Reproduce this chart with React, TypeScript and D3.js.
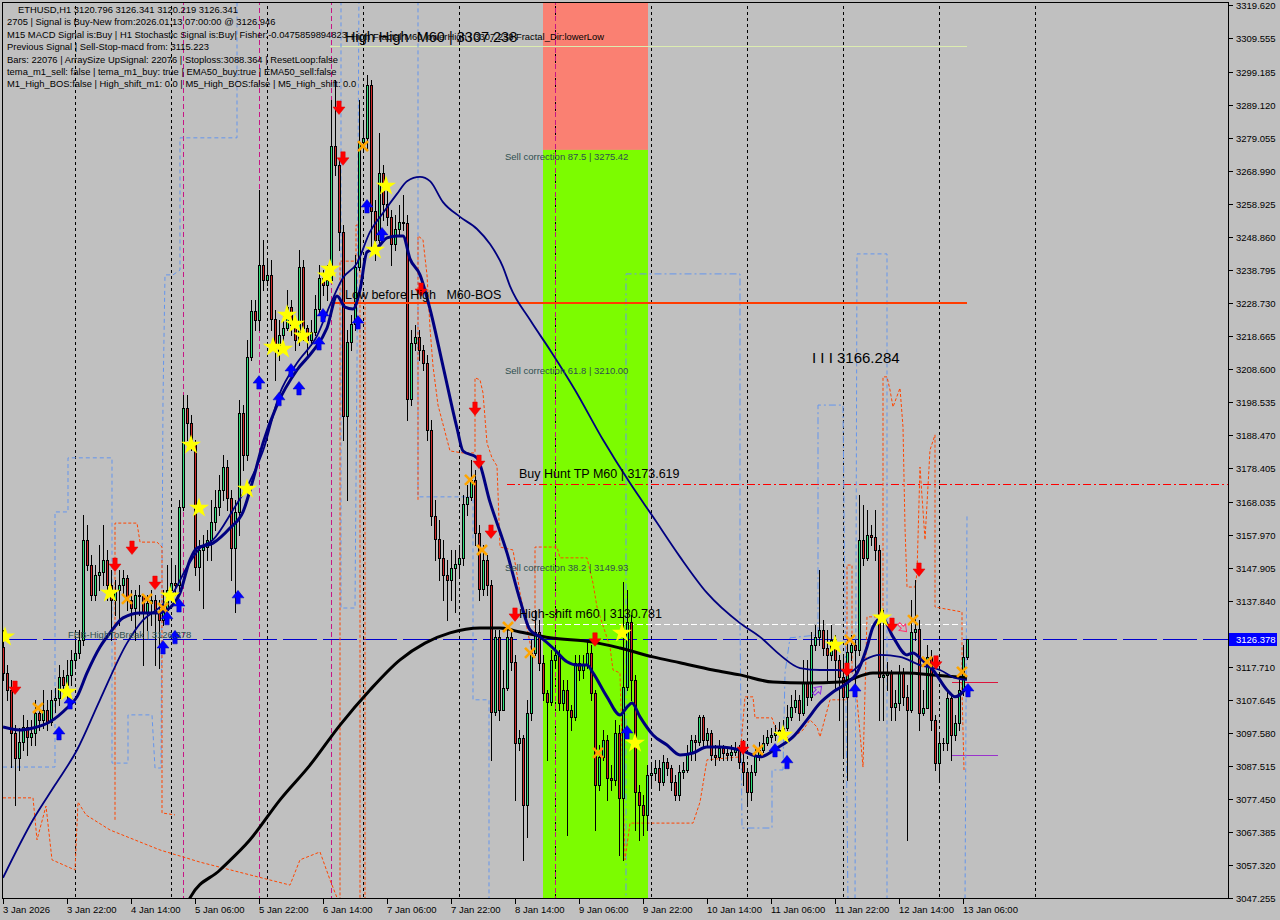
import * as d3 from "d3";

// ETHUSD H1, first bar 3 Jan 2026 06:00, one bar per hour
const START = Date.UTC(2026, 0, 3, 6);
const HOUR = 3600 * 1000;
const FIRST_OPEN = 3123.8;

const CLOSE = [
  3115.9, 3110.7, 3097.6, 3090.0, 3094.9, 3099.4, 3096.4, 3097.6, 3103.7, 3101.6,
  3104.6, 3101.0, 3107.7, 3108.3, 3114.7, 3112.2, 3115.3, 3119.9, 3122.0, 3126.0,
  3156.5, 3148.8, 3139.7, 3145.8, 3146.7, 3150.4, 3142.7, 3138.2, 3141.2, 3142.7,
  3144.8, 3138.2, 3135.7, 3139.7, 3139.4, 3134.5, 3137.2, 3138.2, 3134.5, 3132.0,
  3135.1, 3141.2, 3143.3, 3142.7, 3166.5, 3196.7, 3192.1, 3185.4, 3148.2, 3153.4,
  3154.3, 3156.5, 3162.0, 3166.5, 3171.7, 3178.7, 3169.3, 3154.0, 3165.0, 3195.2,
  3182.4, 3212.3, 3226.3, 3223.6, 3240.3, 3235.8, 3237.3, 3223.9, 3214.1, 3219.0,
  3221.1, 3227.5, 3222.0, 3217.5, 3239.7, 3221.1, 3217.5, 3219.9, 3226.9, 3236.4,
  3234.2, 3235.8, 3276.6, 3270.8, 3250.4, 3194.3, 3216.8, 3222.3, 3239.7, 3277.8,
  3279.1, 3295.2, 3256.8, 3248.0, 3268.4, 3258.9, 3255.0, 3246.7, 3251.3, 3253.4,
  3253.1, 3199.5, 3216.5, 3218.4, 3214.4, 3210.4, 3190.0, 3163.8, 3156.8, 3151.0,
  3145.8, 3144.3, 3147.9, 3149.1, 3151.0, 3167.4, 3169.6, 3174.8, 3158.6, 3141.5,
  3150.4, 3142.7, 3104.0, 3126.9, 3104.6, 3111.3, 3126.9, 3119.3, 3094.5, 3096.1,
  3075.6, 3103.7, 3122.0, 3128.4, 3119.0, 3109.8, 3107.0, 3119.9, 3121.4, 3106.7,
  3110.7, 3104.6, 3102.5, 3119.0, 3116.8, 3118.3, 3122.0, 3109.8, 3081.7, 3090.3,
  3095.5, 3083.9, 3083.3, 3097.6, 3077.8, 3111.6, 3131.4, 3113.8, 3079.6, 3075.6,
  3072.6, 3084.8, 3085.4, 3086.9, 3082.7, 3088.8, 3086.9, 3082.7, 3078.7, 3085.7,
  3086.3, 3091.5, 3095.5, 3094.9, 3102.5, 3095.5, 3097.6, 3090.9, 3090.3, 3093.0,
  3091.5, 3090.9, 3091.8, 3093.0, 3088.8, 3085.7, 3079.6, 3085.7, 3090.9, 3092.4,
  3094.5, 3096.4, 3097.0, 3097.6, 3098.5, 3099.1, 3102.5, 3105.5, 3107.7, 3103.7,
  3112.8, 3108.6, 3124.4, 3126.9, 3129.0, 3123.5, 3121.4, 3126.0, 3119.9, 3114.7,
  3108.6, 3122.3, 3124.4, 3122.9, 3156.5, 3151.0, 3158.0, 3157.4, 3153.4, 3114.7,
  3115.3, 3116.2, 3105.5, 3106.7, 3116.2, 3108.6, 3104.6, 3128.4, 3129.3, 3103.7,
  3105.2, 3120.8, 3101.6, 3088.4, 3094.5, 3094.5, 3108.3, 3097.0, 3100.6, 3110.7,
  3120.8, 3126.3,
];

const HIGH = [
  3129.0, 3118.3, 3113.8, 3100.0, 3099.1, 3103.1, 3101.6, 3101.6, 3107.7, 3106.1,
  3110.7, 3107.7, 3110.7, 3111.3, 3118.3, 3116.8, 3119.9, 3122.9, 3126.0, 3129.0,
  3164.1, 3161.0, 3151.9, 3148.8, 3154.9, 3161.0, 3153.4, 3147.3, 3144.3, 3147.3,
  3147.3, 3145.8, 3141.2, 3141.2, 3142.7, 3139.7, 3139.7, 3141.2, 3139.7, 3138.2,
  3141.2, 3148.8, 3150.4, 3148.8, 3168.7, 3200.7, 3200.7, 3194.6, 3187.0, 3156.5,
  3158.0, 3159.5, 3168.7, 3171.7, 3176.3, 3182.4, 3180.9, 3171.7, 3168.7, 3199.2,
  3197.6, 3217.5, 3229.7, 3229.7, 3263.2, 3248.0, 3241.9, 3241.9, 3226.6, 3223.6,
  3225.1, 3232.7, 3229.7, 3223.6, 3244.9, 3241.9, 3222.0, 3223.6, 3231.2, 3240.3,
  3238.8, 3240.3, 3290.7, 3296.8, 3272.4, 3252.5, 3220.5, 3225.1, 3243.4, 3290.7,
  3284.6, 3298.3, 3296.8, 3260.2, 3280.6, 3270.8, 3263.2, 3257.1, 3255.6, 3258.6,
  3261.7, 3255.6, 3220.5, 3222.0, 3220.5, 3215.9, 3212.9, 3193.0, 3168.7, 3162.6,
  3156.5, 3150.4, 3153.4, 3153.4, 3154.9, 3170.2, 3173.2, 3180.9, 3177.8, 3161.0,
  3154.9, 3151.9, 3144.3, 3129.0, 3129.0, 3116.8, 3130.5, 3129.0, 3121.4, 3098.5,
  3097.0, 3107.7, 3126.0, 3135.1, 3132.0, 3121.4, 3110.7, 3122.9, 3124.4, 3122.9,
  3113.8, 3113.8, 3106.1, 3121.4, 3121.4, 3121.4, 3126.0, 3124.4, 3110.7, 3093.9,
  3098.5, 3097.0, 3087.8, 3101.6, 3100.0, 3143.6, 3141.2, 3133.6, 3115.3, 3081.7,
  3078.7, 3087.8, 3087.8, 3089.4, 3089.4, 3090.9, 3090.0, 3087.8, 3084.8, 3087.8,
  3088.8, 3093.9, 3097.0, 3097.0, 3103.1, 3103.1, 3099.1, 3098.5, 3093.9, 3095.5,
  3093.9, 3093.0, 3093.9, 3094.9, 3093.9, 3095.5, 3086.3, 3087.8, 3093.0, 3094.9,
  3097.0, 3098.5, 3099.1, 3100.0, 3101.0, 3101.6, 3106.1, 3109.2, 3110.7, 3109.2,
  3119.9, 3119.9, 3128.4, 3130.5, 3147.3, 3132.0, 3129.0, 3130.5, 3127.5, 3121.4,
  3121.4, 3126.0, 3127.5, 3126.0, 3170.2, 3167.1, 3165.6, 3161.0, 3165.6, 3154.9,
  3135.1, 3119.3, 3116.8, 3110.7, 3118.3, 3117.4, 3112.2, 3138.2, 3144.3, 3132.0,
  3110.7, 3124.4, 3122.9, 3103.1, 3097.0, 3096.1, 3110.7, 3109.2, 3103.1, 3113.8,
  3124.4, 3126.3,
];

const LOW = [
  3113.8, 3107.7, 3087.2, 3075.6, 3086.3, 3092.4, 3090.9, 3093.9, 3093.9, 3098.5,
  3099.1, 3098.5, 3100.0, 3104.0, 3106.1, 3109.2, 3107.7, 3112.2, 3118.3, 3120.5,
  3124.4, 3147.3, 3138.2, 3138.2, 3141.2, 3142.7, 3138.2, 3126.0, 3133.6, 3130.5,
  3139.7, 3135.1, 3132.0, 3126.0, 3133.6, 3118.3, 3129.0, 3130.5, 3118.3, 3117.4,
  3130.5, 3133.6, 3139.7, 3139.7, 3139.7, 3165.6, 3187.0, 3183.9, 3145.8, 3141.2,
  3135.7, 3150.4, 3150.4, 3159.5, 3164.1, 3168.7, 3165.6, 3144.3, 3134.5, 3158.0,
  3177.8, 3180.9, 3211.4, 3220.5, 3220.5, 3232.7, 3234.2, 3220.5, 3205.3, 3211.4,
  3215.9, 3220.5, 3219.0, 3214.4, 3215.9, 3217.5, 3212.9, 3215.9, 3219.0, 3225.1,
  3231.2, 3229.7, 3240.3, 3267.8, 3244.9, 3187.0, 3168.7, 3214.4, 3220.5, 3238.8,
  3275.4, 3275.4, 3244.9, 3241.9, 3246.4, 3254.1, 3252.5, 3240.3, 3244.9, 3249.5,
  3251.0, 3193.0, 3197.6, 3214.4, 3211.4, 3208.3, 3187.0, 3161.0, 3150.4, 3144.3,
  3138.2, 3132.0, 3138.2, 3134.5, 3145.8, 3148.8, 3164.1, 3168.7, 3154.9, 3138.2,
  3139.7, 3139.7, 3089.4, 3103.1, 3101.6, 3107.7, 3110.7, 3116.8, 3077.2, 3092.4,
  3058.9, 3065.9, 3101.6, 3121.4, 3116.8, 3107.7, 3089.4, 3106.1, 3117.4, 3104.6,
  3104.6, 3066.5, 3098.5, 3101.6, 3113.8, 3114.4, 3117.4, 3107.7, 3068.0, 3080.2,
  3089.4, 3077.2, 3080.2, 3081.7, 3060.4, 3058.9, 3110.7, 3107.7, 3068.0, 3065.0,
  3066.5, 3068.0, 3081.7, 3083.3, 3080.2, 3081.7, 3084.8, 3080.2, 3077.2, 3077.2,
  3083.9, 3085.7, 3089.4, 3089.4, 3093.9, 3093.0, 3093.9, 3089.4, 3087.8, 3089.4,
  3089.4, 3089.4, 3089.4, 3090.9, 3086.9, 3081.7, 3075.6, 3077.2, 3084.8, 3089.4,
  3091.8, 3093.9, 3094.9, 3095.5, 3096.1, 3097.0, 3098.5, 3101.6, 3104.0, 3101.6,
  3103.1, 3106.1, 3107.7, 3122.9, 3124.4, 3121.4, 3113.8, 3119.9, 3110.7, 3101.6,
  3090.9, 3083.3, 3119.9, 3110.7, 3121.4, 3148.8, 3150.4, 3154.9, 3150.4, 3101.6,
  3101.6, 3110.7, 3101.6, 3101.6, 3104.6, 3106.1, 3065.0, 3104.0, 3126.0, 3098.5,
  3103.1, 3106.1, 3098.5, 3086.3, 3083.3, 3092.4, 3092.4, 3089.4, 3095.5, 3098.5,
  3109.2, 3120.2,
];

// indicator lines: [bar index, price]
const FAST_MA: [number, number][] = [
  [0, 3099.4], [4.25, 3098.5], [7.5, 3099.1], [11.75, 3101.0], [16, 3105.2], [18.5, 3108.6],
  [21, 3115.9], [24.25, 3123.8], [26.75, 3128.1], [30, 3132.7], [34.25, 3134.2], [38.5, 3134.2],
  [41, 3135.1], [44.25, 3140.3], [46.75, 3150.4], [48.5, 3154.0], [52.5, 3155.5], [56.75, 3160.1],
  [60, 3165.0], [62.5, 3174.8], [65, 3186.0], [68.5, 3197.6], [73.5, 3208.3], [77.5, 3214.1],
  [81, 3221.1], [83.5, 3230.9], [85.5, 3227.5], [87.5, 3226.9], [89.25, 3232.7], [91, 3244.3],
  [93.5, 3245.5], [96, 3248.6], [98.5, 3249.2], [100, 3249.2], [101.75, 3242.2], [104.25, 3237.3],
  [106.75, 3226.9], [110, 3209.5], [113.5, 3190.6], [115, 3183.6], [118.5, 3181.5], [121.75, 3168.0],
  [126, 3152.5], [129.25, 3138.2], [131.75, 3129.0], [134.25, 3126.9], [137.5, 3123.5], [141, 3119.3],
  [143.5, 3118.3], [146, 3118.3], [147.5, 3115.9], [151, 3108.6], [154.25, 3103.1], [156, 3105.5],
  [157.25, 3106.7], [159.25, 3102.5], [162.5, 3097.0], [166, 3093.9], [169.25, 3090.9], [172.5, 3091.5],
  [176, 3093.3], [179.25, 3093.3], [184.25, 3092.4], [189.25, 3090.3], [193.5, 3093.0], [197.5, 3096.4],
  [201, 3101.6], [204.25, 3106.7], [207.5, 3110.1], [211, 3112.8], [213.5, 3115.9], [216, 3123.8],
  [217.5, 3129.9], [219.75, 3132.7], [222.5, 3126.9], [226, 3121.4], [227.5, 3122.0], [229.75, 3119.9],
  [232.5, 3116.8], [236, 3110.7], [238, 3108.6], [241, 3111.6],
];

const SLOW_MA: [number, number][] = [
  [0, 3053.4], [7.5, 3071.1], [13, 3081.7], [18.5, 3092.4], [24.25, 3107.7], [31, 3125.0],
  [35, 3132.0], [39.25, 3136.0], [42.5, 3140.3], [46, 3148.2], [49.25, 3154.0], [52.5, 3156.5],
  [57.5, 3165.6], [61.75, 3174.4], [65, 3183.6], [69.25, 3201.3], [73.5, 3210.4], [78.5, 3218.7],
  [81.75, 3228.1], [85, 3236.4], [88.5, 3240.9], [91.75, 3250.4], [95, 3256.2], [98.5, 3262.0],
  [101, 3265.9], [104.25, 3267.2], [106.75, 3265.9], [110, 3259.5], [114.25, 3255.0], [118.5, 3251.3],
  [121.75, 3246.7], [125, 3239.7], [126.75, 3233.9], [131.75, 3223.6], [136.75, 3214.4], [143, 3202.2],
  [150, 3187.0], [156.75, 3173.8], [162.5, 3163.5], [169.25, 3151.3], [176, 3140.3], [184.25, 3131.1],
  [189.25, 3126.9], [194.25, 3121.4], [199.25, 3117.4], [204.25, 3116.8], [208.5, 3116.8], [211.75, 3116.2],
  [215.5, 3119.9], [219.25, 3121.4], [224.25, 3120.8], [229.25, 3118.3], [234.25, 3116.8], [238, 3114.4],
  [241, 3113.8],
];

const LONG_MA: [number, number][] = [
  [44.25, 3040.0], [46.75, 3047.3], [54.25, 3055.8], [61.75, 3065.0], [69.25, 3077.2], [76.75, 3087.8],
  [84.25, 3100.0], [91.75, 3110.7], [99.25, 3119.9], [105.5, 3125.0], [111.75, 3128.1], [119.25, 3129.6],
  [124.25, 3129.6], [129.25, 3128.4], [136.75, 3126.6], [147.5, 3125.3], [154.25, 3123.5], [162.5, 3120.8],
  [169.25, 3119.0], [177.5, 3116.8], [184.25, 3115.3], [192.5, 3113.1], [201, 3112.8], [209.25, 3113.1],
  [217.5, 3115.9], [226, 3115.9], [232.5, 3115.3], [241, 3114.4],
];

const ORANGE_BANDS: [number, number][][] = [
  [[0, 3077.8], [7.5, 3077.8], [8.5, 3065.0], [10.75, 3075.3], [12.25, 3058.9], [18, 3055.8],
    [18.75, 3076.5], [20.75, 3072.6], [26.75, 3068.0], [39.25, 3061.9], [49.25, 3058.2],
    [61.75, 3054.3], [71.75, 3051.2], [74.25, 3058.9], [79.25, 3061.3], [81.75, 3052.8], [84.25, 3045.0]],
  [[28, 3071.1], [28, 3161.6], [33.5, 3161.6], [34.25, 3155.8], [38.5, 3155.8], [39.75, 3154.3],
    [39.75, 3073.2], [43, 3072.6]],
  [[84.25, 3045.0], [84.25, 3241.5], [88.25, 3241.5], [88.25, 3252.5], [89.25, 3252.5], [89.25, 3045.0]],
  [[90.5, 3230.6], [90.5, 3045.0]],
  [[103.75, 3168.7], [103.75, 3249.2], [105, 3248.0], [106, 3237.3], [106.75, 3221.1], [107.5, 3209.5],
    [108.75, 3197.6], [111.75, 3183.6], [115, 3183.0], [118, 3183.0], [118, 3205.9], [119.25, 3205.3],
    [120, 3201.3], [121, 3186.0], [122.25, 3181.5], [123.5, 3179.0], [124.25, 3154.3], [127.5, 3153.4],
    [129.25, 3140.3], [132.25, 3122.0], [133, 3122.0], [133, 3154.3], [138.5, 3154.3], [139.25, 3151.0],
    [146, 3151.0], [147.5, 3143.3], [148.5, 3136.0], [151.75, 3123.8], [152.5, 3116.8], [154.25, 3115.9],
    [155.5, 3058.9], [156.75, 3070.1], [172.5, 3070.1], [174.25, 3076.5], [176, 3089.4], [184.25, 3090.3],
    [185.5, 3108.6], [187.5, 3108.6], [188, 3102.2], [192.25, 3102.2], [193, 3099.4], [196.75, 3095.5],
    [200, 3098.5], [201.75, 3101.6], [203.5, 3099.4], [204.25, 3096.4], [206.75, 3107.7], [211, 3107.7],
    [211, 3148.8], [212.25, 3148.8], [212.25, 3115.9], [213, 3114.7], [215, 3087.2], [216, 3133.0],
    [220, 3133.0], [220, 3206.2], [221, 3206.2], [221.75, 3202.2], [222.5, 3197.0], [224.25, 3202.8],
    [225, 3190.9], [225.5, 3160.4], [226, 3142.1], [228, 3142.1], [228.5, 3146.4], [229.25, 3178.7],
    [230.5, 3156.5], [231.75, 3183.9], [233, 3188.5], [233, 3136.0], [239.75, 3134.5], [239.75, 3110.7],
    [240.25, 3086.3]],
];

const BLUE_STEPS: [number, number][][] = [
  [[0, 3087.2], [13, 3087.2], [13, 3165.0], [16.25, 3165.0], [16.25, 3181.5], [27.25, 3181.5],
    [27.25, 3088.4], [31.25, 3088.4], [31.25, 3103.1], [37.25, 3103.1], [38, 3086.9], [39.5, 3086.9],
    [40, 3199.2], [40.5, 3237.3], [42.5, 3237.3], [44.25, 3238.8], [44.25, 3279.1], [58.5, 3279.1],
    [58.5, 3325.0]],
  [[84.5, 3325.0], [84.5, 3135.7], [88, 3135.7], [88.5, 3211.4], [89, 3325.0]],
  [[103.75, 3325.0], [103.75, 3169.6], [117.5, 3169.6], [117.5, 3107.7], [121.5, 3107.7], [121.5, 3045.0]],
  [[155.75, 3045.0], [155.75, 3237.6], [184.25, 3237.6], [184.25, 3132.0], [184.75, 3068.6],
    [192.25, 3068.6], [192.25, 3086.3], [195, 3086.3], [195.5, 3115.9], [196.75, 3126.6],
    [203.75, 3127.5], [203.75, 3197.6], [210, 3197.6], [211.25, 3045.0]],
  [[213, 3045.0], [213.5, 3243.7], [221, 3243.7], [221, 3045.0]],
  [[240.5, 3045.0], [241, 3164.1]],
];

const SELL_ARROWS: [number, number][] = [
  [3, 3111.3], [28, 3148.8], [32.25, 3154.0], [38, 3143.3], [84, 3288.2], [85, 3272.7],
  [104.5, 3232.7], [118, 3196.4], [119, 3180.2], [122, 3158.9], [128, 3133.6], [148, 3126.0],
  [185, 3093.0], [211, 3116.8], [222.25, 3130.5], [229, 3147.3], [233.25, 3119.0],
];
const BUY_ARROWS: [number, number][] = [
  [14, 3097.6], [16.75, 3107.0], [40, 3123.8], [41, 3132.7], [43, 3126.9], [44, 3136.6],
  [58.75, 3139.1], [64, 3204.6], [69, 3199.5], [72, 3208.3], [74, 3202.8], [79, 3216.5],
  [80, 3225.1], [88.75, 3222.9], [91, 3258.3], [94.75, 3249.8], [156, 3097.9], [193, 3092.4],
  [196, 3088.8], [213, 3110.7], [241.25, 3110.7],
];
const STARS: [number, number][] = [
  [0.5, 3126.9], [16, 3110.1], [26.75, 3140.3], [41.75, 3139.4], [47, 3185.4], [49, 3166.2],
  [61, 3172.0], [67.5, 3215.3], [70, 3214.7], [71, 3225.1], [73, 3222.3], [75, 3218.7],
  [81, 3237.0], [81.75, 3239.1], [93, 3244.9], [95.75, 3264.4], [154.75, 3128.1], [158, 3094.5],
  [195, 3097.0], [208, 3124.4], [219.75, 3132.7],
];
const CROSSES: [number, number][] = [
  [8.75, 3105.2], [31, 3138.5], [36, 3138.5], [40, 3135.7], [90, 3276.6], [116.75, 3174.8],
  [119.75, 3153.4], [126.25, 3129.9], [131.75, 3122.0], [148.75, 3091.5], [188.75, 3092.4],
  [211.75, 3126.0], [227.5, 3132.0], [231, 3119.3], [239.75, 3116.2],
];
// small hollow arrows: [bar index, price, angle in degrees]
const HOLLOW_ARROWS: [number, number, number][] = [
  [203.75, 3110.7, 45], [225, 3129.6, 135],
];

const DAY_SEPARATORS = [18, 42, 66, 90, 114, 138, 162, 186, 210, 234, 258];
const SIGNAL_VLINES = [45, 64, 82, 138];

const ZONE_FROM = 135;
const ZONE_TO = 161.25;
const FIB_87 = 3275.42;
const FIB_61 = 3210.0;
const FIB_38 = 3149.93;
const LEVEL_BOS = 3228.7;
const LEVEL_HH = 3307.238;
const LEVEL_BUY_TP = 3173.619;
const LEVEL_HIGH_SHIFT = 3130.781;
const LEVEL_FBB = 3126.378;
const LEVEL_SHORT_RED = 3113.1;
const LEVEL_SHORT_PURPLE = 3090.9;

const PRICE_TICKS = [
  3319.62, 3309.555, 3299.185, 3289.12, 3279.055, 3268.99, 3258.925, 3248.86, 3238.795, 3228.73,
  3218.665, 3208.6, 3198.535, 3188.47, 3178.405, 3168.035, 3157.97, 3147.905, 3137.84, 3127.775,
  3117.71, 3107.645, 3097.58, 3087.515, 3077.45, 3067.385, 3057.32, 3047.255,
];
const TIME_TICKS = [0, 16, 32, 48, 64, 80, 96, 112, 128, 144, 160, 176, 192, 208, 224, 240];
const TIME_LABELS = [
  "3 Jan 2026", "3 Jan 22:00", "4 Jan 14:00", "5 Jan 06:00", "5 Jan 22:00", "6 Jan 14:00",
  "7 Jan 06:00", "7 Jan 22:00", "8 Jan 14:00", "9 Jan 06:00", "9 Jan 22:00", "10 Jan 14:00",
  "11 Jan 06:00", "11 Jan 22:00", "12 Jan 14:00", "13 Jan 06:00",
];

const INFO_LINES = [
  "ETHUSD,H1  3120.796 3126.341 3120.219 3126.341",
  "2705 | Signal is Buy-New from:2026.01.13 07:00:00 @ 3126.946",
  "M15 MACD Signal is:Buy | H1 Stochastic Signal is:Buy| Fisher:-0.0475859894823",
  "Previous Signal | Sell-Stop-macd from: 3115.223",
  "Bars: 22076 | ArraySize UpSignal: 22076 | Stoploss:3088.364 | ResetLoop:false",
  "tema_m1_sell: false | tema_m1_buy: true | EMA50_buy:true | EMA50_sell:false",
  "M1_High_BOS:false | High_shift_m1: 0.0 | M5_High_BOS:false | M5_High_shift: 0.0",
];

const FONT = "'Liberation Sans', Arial, sans-serif";
const BG = "#c0c0c0";
const L = 3, R = 1228, T = 3, B = 898;
const NB = "\u00a0";

export default function App() {
  const xs = d3
    .scaleUtc()
    .domain([new Date(START), new Date(START + 306.25 * HOUR)])
    .range([L, R]);
  const xh = (h: number) => xs(new Date(START + h * HOUR));
  const y = d3.scaleLinear().domain([3047.255, 3319.62]).range([898, 5]);
  const snap = (v: number) => Math.round(v) + 0.5;

  const line = d3
    .line<[number, number]>()
    .x((d) => xh(d[0]))
    .y((d) => y(d[1]));
  const smooth = d3
    .line<[number, number]>()
    .x((d) => xh(d[0]))
    .y((d) => y(d[1]))
    .curve(d3.curveMonotoneX);

  const bars = CLOSE.map((c, i) => {
    const o = i === 0 ? FIRST_OPEN : CLOSE[i - 1];
    return { i, o, c, h: Math.max(HIGH[i], o, c), l: Math.min(LOW[i], o, c) };
  });

  const star = d3.symbol().type(d3.symbolStar).size(125)()!;
  const downArrow = "M-2.2,-7h4.4v6h3.8l-6,7.5l-6,-7.5h3.8z";
  const upArrow = "M-2.2,7h4.4v-6h3.8l-6,-7.5l-6,7.5h3.8z";
  const hollowArrow = "M-1.5,6h3v-5h3l-4.5,-6l-4.5,6h3z";

  const blueDash = ["4 3", "4 3", "4 3", "7 3 2 3", "4 3", "4 3"];
  // the tick under the current-price box is hidden, as in the terminal
  const boxY = y(LEVEL_FBB);
  const visibleTicks = PRICE_TICKS.filter((p) => Math.abs(y(p) - boxY) > 9);
  const bosY = Math.round(y(LEVEL_BOS));

  return (
    <div style={{ position: "fixed", left: 0, top: 0 }}>
      <svg width={1280} height={920} style={{ display: "block", background: BG }} fontFamily={FONT}>
        <defs>
          <clipPath id="plot">
            <rect x={L} y={T} width={R - L} height={B - T} />
          </clipPath>
        </defs>
        <rect width={1280} height={920} fill={BG} />

        <g clipPath="url(#plot)">
          {/* retracement zone */}
          <rect x={xh(ZONE_FROM)} y={0} width={xh(ZONE_TO) - xh(ZONE_FROM)} height={y(FIB_87)} fill="#fa8072" />
          <rect x={xh(ZONE_FROM)} y={y(FIB_87)} width={xh(ZONE_TO) - xh(ZONE_FROM)} height={B - y(FIB_87)} fill="#7cfc00" />

          {DAY_SEPARATORS.map((h) => (
            <line key={"d" + h} x1={snap(xh(h))} x2={snap(xh(h))} y1={0} y2={B} stroke="#000" strokeDasharray="3 3" />
          ))}
          {SIGNAL_VLINES.map((h) => (
            <line key={"s" + h} x1={snap(xh(h))} x2={snap(xh(h))} y1={0} y2={B} stroke="#c71585" strokeDasharray="5 3" />
          ))}

          {/* levels */}
          <line x1={xh(81.75)} x2={xh(241)} y1={snap(y(LEVEL_HH))} y2={snap(y(LEVEL_HH))} stroke="#dcecb0" />
          <line x1={xh(126)} x2={R} y1={snap(y(LEVEL_BUY_TP))} y2={snap(y(LEVEL_BUY_TP))} stroke="#ff0000" strokeDasharray="8 3 2 3" />
          <line x1={xh(129.25)} x2={xh(241)} y1={snap(y(LEVEL_HIGH_SHIFT))} y2={snap(y(LEVEL_HIGH_SHIFT))} stroke="#ffffff" strokeDasharray="6 3" />
          <line x1={L} x2={R} y1={snap(y(LEVEL_FBB))} y2={snap(y(LEVEL_FBB))} stroke="#0000cd" strokeDasharray="34 6" />
          <line x1={xh(237.25)} x2={xh(248.75)} y1={snap(y(LEVEL_SHORT_RED))} y2={snap(y(LEVEL_SHORT_RED))} stroke="#dc143c" strokeWidth={1.2} />
          <line x1={xh(237.25)} x2={xh(248.75)} y1={snap(y(LEVEL_SHORT_PURPLE))} y2={snap(y(LEVEL_SHORT_PURPLE))} stroke="#9932cc" strokeWidth={1.2} />

          {/* band indicators */}
          {BLUE_STEPS.map((pts, k) => (
            <path key={"b" + k} d={line(pts)!} fill="none" stroke="#6495ed" strokeWidth={1} strokeDasharray={blueDash[k]} />
          ))}
          {ORANGE_BANDS.map((pts, k) => (
            <path key={"o" + k} d={line(pts)!} fill="none" stroke="#ff4500" strokeWidth={1} strokeDasharray="3 2" />
          ))}

          {/* candles */}
          <g shapeRendering="crispEdges">
            {bars.map((b) => {
              const cx = Math.round(xh(b.i));
              const top = Math.round(y(Math.max(b.o, b.c)));
              const bot = Math.round(y(Math.min(b.o, b.c)));
              const hy = Math.round(y(b.h));
              const ly = Math.round(y(b.l));
              const bh = Math.max(1, bot - top + 1);
              const up = b.c >= b.o;
              return (
                <g key={b.i}>
                  <rect x={cx} y={hy} width={1} height={Math.max(1, ly - hy + 1)} fill="#000" />
                  <rect x={cx - 1} y={top} width={3} height={bh} fill="#000" />
                  {bh > 2 && <rect x={cx} y={top + 1} width={1} height={bh - 2} fill={up ? "#2ee07a" : "#d02828"} />}
                </g>
              );
            })}
          </g>

          {/* market structure line sits over the candles */}
          <rect x={xh(81.75)} y={bosY - 1} width={xh(241) - xh(81.75)} height={2} fill="#ff3c00" shapeRendering="crispEdges" />

          {/* moving averages */}
          <path d={smooth(LONG_MA)!} fill="none" stroke="#000" strokeWidth={3} />
          <path d={smooth(SLOW_MA)!} fill="none" stroke="#000080" strokeWidth={1.8} />
          <path d={smooth(FAST_MA)!} fill="none" stroke="#000080" strokeWidth={3} />

          {/* signals */}
          {CROSSES.map(([h, p], k) => (
            <g key={"x" + k} transform={`translate(${xh(h)},${y(p)})`} stroke="#ffa500" strokeWidth={2.6}>
              <line x1={-5} y1={-5} x2={5} y2={5} />
              <line x1={-5} y1={5} x2={5} y2={-5} />
            </g>
          ))}
          {SELL_ARROWS.map(([h, p], k) => (
            <path key={"sa" + k} d={downArrow} transform={`translate(${xh(h)},${y(p)})`} fill="#ff0000" stroke="#e00000" strokeWidth={0.5} />
          ))}
          {BUY_ARROWS.map(([h, p], k) => (
            <path key={"ba" + k} d={upArrow} transform={`translate(${xh(h)},${y(p)})`} fill="#0000ff" stroke="#0000c0" strokeWidth={0.5} />
          ))}
          {HOLLOW_ARROWS.map(([h, p, a], k) => (
            <path key={"ha" + k} d={hollowArrow} transform={`translate(${xh(h)},${y(p)}) rotate(${a})`} fill="none" stroke={k === 0 ? "#8a2be2" : "#ff3070"} strokeWidth={1} />
          ))}
          {STARS.map(([h, p], k) => (
            <path key={"st" + k} d={star} transform={`translate(${xh(h)},${y(p)})`} fill="#ffff00" />
          ))}

          {/* object labels */}
          <g fontSize={9.5} fill="#2f4f4f">
            <text x={xh(125.5)} y={y(FIB_87) + 10}>Sell correction 87.5 | 3275.42</text>
            <text x={xh(125.5)} y={y(FIB_61) + 10}>Sell correction 61.8 | 3210.00</text>
            <text x={xh(125.5)} y={y(FIB_38) + 10}>Sell correction 38.2 | 3149.93</text>
            <text x={xh(16.25)} y={y(LEVEL_FBB) - 1}>FBB-HighToBreak | 3126.378</text>
          </g>
          <g fontSize={12.5} fill="#000">
            <text x={xh(129)} y={y(LEVEL_BUY_TP) - 6}>Buy Hunt TP M60 | 3173.619</text>
            <text x={xh(129)} y={y(LEVEL_HIGH_SHIFT) - 6}>High-shift m60 | 3130.781</text>
            <text x={xh(85.5)} y={y(LEVEL_BOS) - 4}>{`Low before High${NB}${NB} M60-BOS`}</text>
            <text x={xh(85.5)} y={y(LEVEL_HH) - 4} fontSize={14.5}>{`High High${NB} M60 | 3307.238`}</text>
          </g>
          <text x={xh(87)} y={y(LEVEL_HH) - 6} fontSize={9.4} fill="#000">High Fractal M60 lowerHigh | 3307.238 Fractal_Dir:lowerLow</text>
          <text x={xh(202.25)} y={y(3210.4)} fontSize={15} fill="#000">I I I 3166.284</text>
        </g>

        {/* info panel */}
        <g fontSize={9.4} fill="#000">
          {INFO_LINES.map((t, k) => (
            <text key={k} x={k === 0 ? 18 : 7} y={13 + k * 12.4}>{t}</text>
          ))}
        </g>

        {/* frame and axes */}
        <rect x={2.5} y={2.5} width={1226} height={896} fill="none" stroke="#000" />
        <g fontSize={9.5} fill="#000">
          {visibleTicks.map((p) => (
            <g key={p}>
              <line x1={1229} x2={1233} y1={snap(y(p))} y2={snap(y(p))} stroke="#000" />
              <text x={1236} y={y(p) + 3.5}>{p.toFixed(3)}</text>
            </g>
          ))}
          {TIME_TICKS.map((h, k) => (
            <g key={h}>
              <line x1={snap(xh(h))} x2={snap(xh(h))} y1={899} y2={904} stroke="#000" />
              <text x={Math.round(xh(h))} y={913}>{TIME_LABELS[k]}</text>
            </g>
          ))}
        </g>
        <rect x={1229} y={Math.round(boxY) - 6} width={48} height={13} fill="#0000ff" />
        <text x={1236} y={boxY + 4} fontSize={9.5} fill="#fff">3126.378</text>
      </svg>
    </div>
  );
}
